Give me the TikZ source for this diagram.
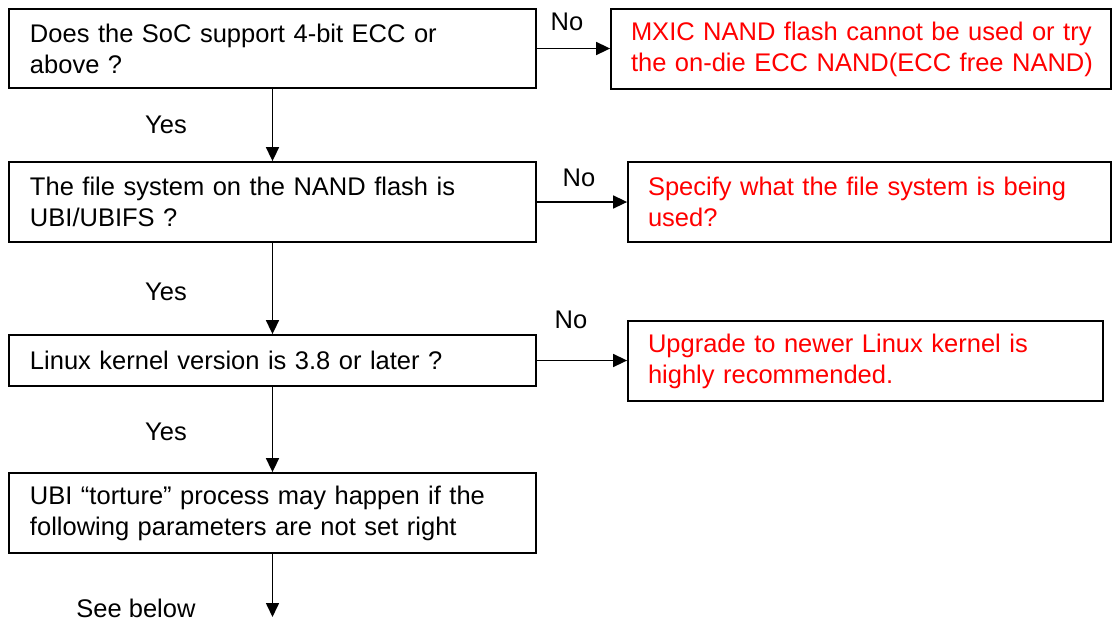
\documentclass[tikz,border=0pt]{standalone}
\usepackage{fontspec}
\setmainfont{Liberation Sans}
\usetikzlibrary{arrows.meta}
\begin{document}
\begin{tikzpicture}[x=1pt,y=-1pt,
  txt/.style={font=\fontsize{25.5}{31}\selectfont},
  box/.style={txt,draw=black,line width=1.8pt,rectangle,inner ysep=0pt,align=left,anchor=center},
  lbox/.style={box,inner xsep=21pt,text width=485pt},
  rbox/.style={box,inner xsep=20pt,text=red,minimum height=80pt},
  arr/.style={line width=1.6pt,-{Triangle[length=14pt,width=13pt]}},
  lbl/.style={txt,inner sep=0pt}]
\useasboundingbox (0,0) rectangle (1112,622);
\node[lbox,minimum height=79pt] (b1) at (272.5,48.5) {Does the SoC support 4-bit ECC or\\above ?};
\node[lbox,minimum height=80pt] (b2) at (272.5,202) {The file system on the NAND flash is\\UBI/UBIFS ?};
\node[lbox,minimum height=51pt] (b3) at (272.5,360.5) {Linux kernel version is 3.8 or later ?};
\node[lbox,minimum height=80pt] (b4) at (272.5,513) {UBI “torture” process may happen if the\\following parameters are not set right};
\node[rbox,text width=460pt] (r1) at (861,49) {\mbox{MXIC NAND flash cannot be used or try}\\\mbox{the on-die ECC NAND(ECC free NAND)}};
\node[rbox,text width=443pt] (r2) at (869.5,202) {\mbox{Specify what the file system is being}\\used?};
\node[rbox,text width=435pt] (r3) at (865.5,361) {\mbox{Upgrade to newer Linux kernel is}\\highly recommended.};
\coordinate (end) at (272.5,617);
\draw[arr] (b1.south) -- (b2.north);
\draw[arr] (b2.south) -- (b3.north);
\draw[arr] (b3.south) -- (b4.north);
\draw[arr] (b4.south) -- (end);
\draw[arr] (b1.east) -- (b1.east -| r1.west);
\draw[arr] (b2.east) -- (b2.east -| r2.west);
\draw[arr] (b3.east) -- (b3.east -| r3.west);
\node[lbl] (no1) at (567,22) {No};
\node[lbl] (no2) at (579,178) {No};
\node[lbl] (no3) at (571,320) {No};
\node[lbl] (yes1) at (166,125) {Yes};
\node[lbl] (yes2) at (166,292) {Yes};
\node[lbl] (yes3) at (166,432) {Yes};
\node[lbl] (see) at (136,608) {See below};
\end{tikzpicture}
\end{document}
